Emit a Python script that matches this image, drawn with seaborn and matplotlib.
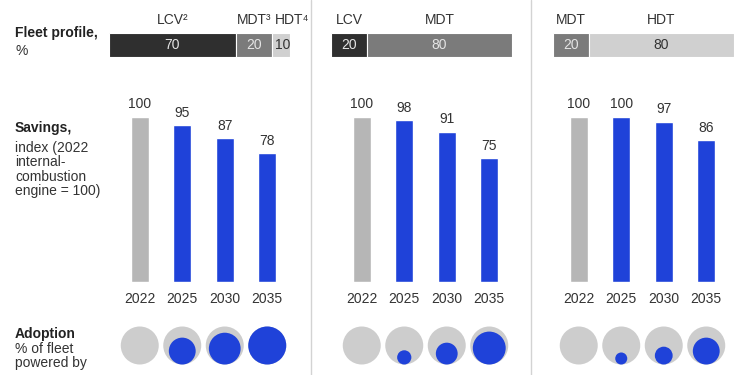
import numpy as np
import pandas as pd
import matplotlib.pyplot as plt
import seaborn as sns
from matplotlib.patches import Circle
from matplotlib.lines import Line2D

# datos
years = ['2022', '2025', '2030', '2035']
fleet_classes = [['LCV', 'MDT', 'HDT'], ['LCV', 'MDT'], ['MDT', 'HDT']]
fleet_labels = [['LCV²', 'MDT³', 'HDT⁴'], ['LCV', 'MDT'], ['MDT', 'HDT']]
fleet_shares = [[70, 20, 10], [20, 80], [20, 80]]
savings = [[100, 95, 87, 78], [100, 98, 91, 75], [100, 100, 97, 86]]
adoption = [[0, 0.50, 0.70, 1.00], [0, 0.14, 0.33, 0.75], [0, 0.10, 0.22, 0.50]]

row_titles = ['Fleet profile,', 'Savings,', 'Adoption']
row_sub = [['%'],
           ['index (2022', 'internal-', 'combustion', 'engine = 100)'],
           ['% of fleet', 'powered by']]

sns.set_style('white')
plt.rcParams['font.family'] = ['Liberation Sans', 'DejaVu Sans']

W, H = 750, 375
fig = plt.figure(figsize=(7.5, 3.75), dpi=100)


def px_axes(left, top, width, height):
    return fig.add_axes([left / W, 1 - (top + height) / H, width / W, height / H])


class_colors = {'LCV': '#2f2f2f', 'MDT': '#7b7b7b', 'HDT': '#d0d0d0'}
class_text = {'LCV': '#e4e4e4', 'MDT': '#e4e4e4', 'HDT': '#333333'}
blue = '#1f42d9'
bar_gray = '#b6b6b6'
circle_gray = '#cdcdcd'
text_dark = '#333333'

fleet_left = [109, 331, 553]
bar_left = [118.5, 340.5, 557.5]
unit = 42.5  # px entre barras

for i in range(3):
    # perfil de flota
    ax = px_axes(fleet_left[i], 33, 181, 24)
    start = 0
    for cls, lab, val in zip(fleet_classes[i], fleet_labels[i], fleet_shares[i]):
        ax.barh(0, val, left=start, height=1, color=class_colors[cls],
                edgecolor='white', linewidth=0.8)
        if val < 15:
            ha, x = 'left', start + 1.5
        else:
            ha, x = 'center', start + val / 2
        ax.text(x, 0, str(val), ha=ha, va='center', color=class_text[cls], fontsize=10)
        ax.annotate(lab, xy=(x, 1), xycoords=('data', 'axes fraction'), xytext=(0, 4),
                    textcoords='offset points', ha=ha, va='bottom', fontsize=10,
                    color=text_dark)
        start += val
    ax.set_xlim(0, 100)
    ax.set_ylim(-0.5, 0.5)
    ax.axis('off')

    # ahorro
    ax = px_axes(bar_left[i], 100, 4 * unit, 182)
    df = pd.DataFrame({'year': years, 'index': savings[i]})
    sns.barplot(data=df, x='year', y='index', hue='year',
                palette=[bar_gray] + [blue] * 3, width=18 / unit,
                saturation=1, legend=False, ax=ax)
    ax.set_xlim(-0.5, 3.5)
    ax.set_ylim(0, 182 / 1.65)
    for p, v in zip(ax.patches, savings[i]):
        ax.annotate(f'{v}', (p.get_x() + p.get_width() / 2, p.get_height()),
                    xytext=(0, 4), textcoords='offset points', ha='center',
                    va='bottom', fontsize=10, color=text_dark)
    sns.despine(ax=ax, left=True, bottom=True)
    ax.set_yticks([])
    ax.set_xlabel('')
    ax.set_ylabel('')
    ax.tick_params(axis='x', length=0, pad=7, labelsize=10, colors=text_dark)

    # adopcion
    ax = px_axes(bar_left[i], 322, 4 * unit, 48)
    R = 19 / unit
    for j, a in enumerate(adoption[i]):
        ax.add_patch(Circle((j, 0), R, color=circle_gray, lw=0))
        if a > 0:
            r = R * np.sqrt(a)
            ax.add_patch(Circle((j, -R + r), r, color=blue, lw=0))
    ax.set_xlim(-0.5, 3.5)
    ax.set_ylim(-24.5 / unit, 23.5 / unit)
    ax.axis('off')

# separadores
for xd in [311, 531]:
    fig.add_artist(Line2D([xd / W, xd / W], [0, 1], color='#d3d3d3', lw=1))

# etiquetas de filas
title_base = [37, 132, 338]
sub_base = [[55], [152, 166.5, 181, 195.5], [353, 367.5]]
for t, tb, subs, sb in zip(row_titles, title_base, row_sub, sub_base):
    fig.text(15 / W, 1 - tb / H, t, fontsize=10, weight='bold', va='baseline',
             color='#222222')
    for s, b in zip(subs, sb):
        fig.text(15 / W, 1 - b / H, s, fontsize=10, va='baseline', color='#333333')

fig.savefig('out.png', dpi=100)
